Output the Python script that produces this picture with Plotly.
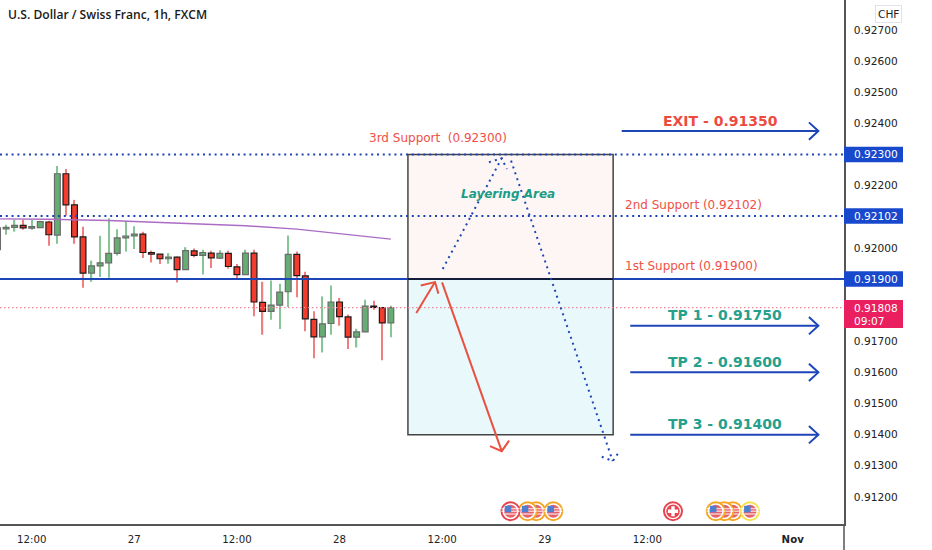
import plotly.graph_objects as go

# ---- data ----
HOURS = list(range(-16, 31))
OPEN = [0.91994,0.92061,0.92066,0.92072,0.92063,0.92065,0.92083,0.92041,0.92238,0.92138,0.92035,0.91919,0.91942,0.91952,0.91982,0.92032,0.92038,
        0.92044,0.91985,0.91980,0.91965,0.91970,0.91930,0.91990,0.91976,0.91983,0.91967,0.91982,0.91939,0.91914,0.91983,0.91825,0.91796,
        0.91816,0.91859,0.91979,0.91910,0.91770,0.91714,0.91757,0.91826,0.91778,0.91713,0.91730,0.91813,0.91808,0.91759]
CLOSE = [0.92064,0.92066,0.92072,0.92064,0.92068,0.92084,0.92042,0.92238,0.92138,0.92035,0.91919,0.91942,0.91952,0.91982,0.92032,0.92038,0.92044,
         0.91985,0.91980,0.91965,0.91970,0.91930,0.91991,0.91976,0.91985,0.91968,0.91982,0.91940,0.91914,0.91983,0.91826,0.91796,0.91816,
         0.91858,0.91979,0.91911,0.91772,0.91714,0.91756,0.91826,0.91779,0.91713,0.91730,0.91813,0.91809,0.91759,0.91808]
HIGH = [0.92074,0.92074,0.92090,0.92090,0.92090,0.92087,0.92087,0.92263,0.92253,0.92154,0.92068,0.91959,0.92039,0.92095,0.92060,0.92085,0.92069,
        0.92052,0.91991,0.91980,0.91983,0.91972,0.92002,0.91998,0.91994,0.91991,0.91992,0.91991,0.91948,0.91994,0.91994,0.91891,0.91895,
        0.91885,0.92040,0.91988,0.91923,0.91796,0.91844,0.91879,0.91839,0.91786,0.91740,0.91833,0.91830,0.91810,0.91814]
LOW = [0.91987,0.92042,0.92052,0.92058,0.92058,0.92064,0.92007,0.92013,0.92103,0.92013,0.91872,0.91891,0.91906,0.91904,0.91975,0.91988,0.91996,
       0.91967,0.91953,0.91948,0.91949,0.91889,0.91930,0.91970,0.91914,0.91935,0.91964,0.91933,0.91903,0.91914,0.91780,0.91721,0.91769,
       0.91739,0.91810,0.91841,0.91732,0.91645,0.91664,0.91721,0.91750,0.91675,0.91680,0.91730,0.91801,0.91639,0.91713]

MA_HOURS = [-16, -10, -3, 8, 13, 19, 23, 30]
MA_VALUES = [0.92093, 0.92092, 0.92088, 0.92077, 0.92071, 0.92060, 0.92048, 0.92028]

X_RANGE = [-15.71, 83.0]
Y_RANGE = [0.91113, 0.92796]

SUPPORT_3 = 0.92300
SUPPORT_2 = 0.92102
SUPPORT_1 = 0.91900
LAST_PRICE = 0.91808
ZONE_X = [32, 56]
ZONE_BOTTOM = 0.91400

ARROW_X0 = [57, 58, 58, 58]
ARROW_X1 = 80
ARROW_WING_X = 78.9
ARROW_PRICE = [0.92375, 0.91750, 0.91600, 0.91400]
ARROW_WING = 0.00028

RED1_X = [32.98, 35.17, None, 33.5, 35.17, 35.56]
RED1_Y = [0.91791, 0.91890, None, 0.91879, 0.91890, 0.91853]
RED2_X = [35.99, 42.97, None, 41.6, 42.97, 43.83]
RED2_Y = [0.91889, 0.91347, None, 0.91363, 0.91347, 0.91381]
BLUE1_X = [36.07, 42.97, None, 41.48, 42.97, 43.56]
BLUE1_Y = [0.91932, 0.92288, None, 0.92275, 0.92288, 0.92253]
BLUE2_X = [44.06, 55.95, None, 54.67, 55.95, 56.73]
BLUE2_Y = [0.92280, 0.91315, None, 0.91329, 0.91315, 0.91346]

Y_TICKS = [0.927, 0.926, 0.925, 0.924, 0.922, 0.920, 0.917, 0.916, 0.915, 0.914, 0.913, 0.912]
X_TICKS = [-12, 0, 12, 24, 36, 48, 60, 77]
X_LABELS = ["12:00", "27", "12:00", "28", "12:00", "29", "12:00", "<b>Nov</b>"]

FLAG_Y = 0.91154
FLAG_X = [47, 49, 46, 44, 70, 72, 69, 68]
FLAG_RING = ["#f5a623", "#f5a623", "#f5a623", "#e8444f", "#f5a623", "#f7e04a", "#f5a623", "#f5a623"]
SWISS_X = 63

RED = "#ef5046"
TEAL = "#25a08c"
BLUE = "#1c46b8"
TICK = "#222222"
FONT = "DejaVu Sans"

fig = go.Figure()

# ---- candles ----
is_up = [c >= o for o, c in zip(OPEN, CLOSE)]
for up, wick, body, border in [(True, "#86c596", "#66ad74", "#6b6b6b"), (False, "#ef8080", "#f23c2e", "#1a1a1a")]:
    idx = [i for i, u in enumerate(is_up) if u == up]
    xs = [HOURS[i] for i in idx]
    fig.add_trace(go.Bar(x=xs, y=[HIGH[i] - LOW[i] for i in idx], base=[LOW[i] for i in idx],
                         width=0.15, marker=dict(color=wick, line=dict(width=0))))
for up, wick, body, border in [(True, "#86c596", "#66ad74", "#6b6b6b"), (False, "#ef8080", "#f23c2e", "#1a1a1a")]:
    idx = [i for i, u in enumerate(is_up) if u == up]
    xs = [HOURS[i] for i in idx]
    fig.add_trace(go.Bar(x=xs, y=[abs(CLOSE[i] - OPEN[i]) for i in idx], base=[min(OPEN[i], CLOSE[i]) for i in idx],
                         width=0.68, marker=dict(color=body, line=dict(width=1.2, color=border))))

fig.add_trace(go.Scatter(x=MA_HOURS, y=MA_VALUES, mode="lines", line=dict(color="#ab6cc4", width=1.4)))

# ---- horizontal levels ----
fig.add_trace(go.Scatter(x=X_RANGE, y=[LAST_PRICE] * 2, mode="lines", line=dict(color="#e8899a", width=1.2, dash="1.5px,2.5px")))
for lvl in (SUPPORT_3, SUPPORT_2):
    fig.add_trace(go.Scatter(x=X_RANGE, y=[lvl] * 2, mode="lines", line=dict(color=BLUE, width=2, dash="2px,3.8px")))
fig.add_trace(go.Scatter(x=X_RANGE, y=[SUPPORT_1] * 2, mode="lines", line=dict(color=BLUE, width=2)))

# ---- zone boxes ----
fig.add_shape(type="rect", x0=ZONE_X[0], x1=ZONE_X[1], y0=SUPPORT_1, y1=SUPPORT_3, layer="below",
              fillcolor="#fdf6f5", line=dict(color="#444444", width=1.5))
fig.add_shape(type="rect", x0=ZONE_X[0], x1=ZONE_X[1], y0=ZONE_BOTTOM, y1=SUPPORT_1, layer="below",
              fillcolor="#e9f8fb", line=dict(color="#444444", width=1.5))
fig.add_trace(go.Scatter(x=ZONE_X, y=[SUPPORT_1] * 2, mode="lines", line=dict(color="#111111", width=1.6)))

# ---- drawn arrows ----
for x, y in ((RED1_X, RED1_Y), (RED2_X, RED2_Y)):
    fig.add_trace(go.Scatter(x=x, y=y, mode="lines", line=dict(color="#e9503f", width=2)))
for x, y in ((BLUE1_X, BLUE1_Y), (BLUE2_X, BLUE2_Y)):
    fig.add_trace(go.Scatter(x=x, y=y, mode="lines", line=dict(color=BLUE, width=2, dash="2px,4.2px")))
for x0, p in zip(ARROW_X0, ARROW_PRICE):
    fig.add_trace(go.Scatter(
        x=[x0, ARROW_X1, None, ARROW_WING_X, ARROW_X1, ARROW_WING_X],
        y=[p, p, None, p + ARROW_WING, p, p - ARROW_WING],
        mode="lines", line=dict(color=BLUE, width=2)))

# ---- news flags ----
STEP = 0.000032
def flag(x, ring):
    fig.add_trace(go.Scatter(x=[x], y=[FLAG_Y], mode="markers",
                             marker=dict(size=18, color="white", line=dict(color=ring, width=2))))
    fig.add_trace(go.Scatter(x=[x], y=[FLAG_Y], mode="markers", marker=dict(size=13, color="#e8626a", line=dict(width=0))))
    fig.add_trace(go.Scatter(x=[x, x, x], y=[FLAG_Y + 2.6 * STEP, FLAG_Y, FLAG_Y - 2.8 * STEP], mode="markers",
                             marker=dict(symbol="line-ew", size=[13, 13, 11], line=dict(color="white", width=1.4))))
    fig.add_trace(go.Scatter(x=[x - 0.3], y=[FLAG_Y + 2.2 * STEP], mode="markers",
                             marker=dict(symbol="square", size=6.5, color="#4f7fd0", line=dict(width=0))))
for fx, ring in zip(FLAG_X, FLAG_RING):
    flag(fx, ring)
fig.add_trace(go.Scatter(x=[SWISS_X], y=[FLAG_Y], mode="markers",
                         marker=dict(size=18, color="white", line=dict(color="#e8444f", width=2))))
fig.add_trace(go.Scatter(x=[SWISS_X], y=[FLAG_Y], mode="markers", marker=dict(size=13.5, color="#e8444f", line=dict(width=0))))
fig.add_trace(go.Scatter(x=[SWISS_X], y=[FLAG_Y], mode="markers", marker=dict(symbol="cross", size=8.5, color="white", line=dict(width=0))))

# ---- text ----
def note(x, y, text, color, size, bold=False, italic=False, family=FONT):
    fig.add_annotation(x=x, y=y, text=text, showarrow=False, xanchor="center", yanchor="middle",
                       font=dict(color=color, size=size, family=family,
                                 weight="bold" if bold else "normal", style="italic" if italic else "normal"))

note(35.5, 0.92353, "3rd Support  (0.92300)", RED, 12)
note(65.45, 0.92137, "2nd Support (0.92102)", RED, 12)
note(65.2, 0.91943, "1st Support (0.91900)", RED, 12)
note(68.5, 0.92408, "EXIT - 0.91350", "#ee4b40", 14, bold=True)
note(69.1, 0.91783, "TP 1 - 0.91750", TEAL, 14, bold=True)
note(69.1, 0.91634, "TP 2 - 0.91600", TEAL, 14, bold=True)
note(69.1, 0.91434, "TP 3 - 0.91400", TEAL, 14, bold=True)
note(43.7, 0.92173, "Layering Area", "#1a9c86", 12, bold=True, italic=True)

fig.add_annotation(xref="paper", yref="paper", x=6 / 844, y=1 - 15 / 524.3, xanchor="left", yanchor="middle",
                   text="U.S. Dollar / Swiss Franc, 1h, FXCM", showarrow=False,
                   font=dict(family="Open Sans", size=12.1, color="#1a1a1a", weight=600))

# ---- price tags on the scale ----
PAPER_L = 1.0
PAPER_R = 903 / 844
TAG_HALF = 7.8 * STEP
TAG_TEXT_X = 852.5 / 844
for lvl in (SUPPORT_3, SUPPORT_2, SUPPORT_1):
    fig.add_shape(type="rect", xref="paper", yref="y", x0=PAPER_L, x1=PAPER_R, y0=lvl - TAG_HALF, y1=lvl + TAG_HALF,
                  fillcolor="#1848cc", line=dict(width=0))
    fig.add_annotation(xref="paper", x=TAG_TEXT_X, y=lvl, text=f"{lvl:.5f}", showarrow=False, xanchor="left",
                       yanchor="middle", font=dict(color="white", size=10.6, family=FONT))
fig.add_shape(type="rect", xref="paper", yref="y", x0=PAPER_L, x1=PAPER_R, y0=LAST_PRICE - 20.5 * STEP, y1=LAST_PRICE + 7.7 * STEP,
              fillcolor="#ea1f5f", line=dict(width=0))
fig.add_annotation(xref="paper", x=TAG_TEXT_X, y=LAST_PRICE, text=f"{LAST_PRICE:.5f}", showarrow=False, xanchor="left",
                   yanchor="middle", font=dict(color="white", size=10.6, family=FONT))
fig.add_annotation(xref="paper", x=TAG_TEXT_X, y=LAST_PRICE - 13 * STEP, text="09:07", showarrow=False, xanchor="left",
                   yanchor="middle", font=dict(color="white", size=10.6, family=FONT))
fig.add_annotation(xref="paper", yref="paper", x=888 / 844, y=1 - 14 / 524.3, text="CHF", showarrow=False, xanchor="center",
                   yanchor="middle", bgcolor="white", bordercolor="#e0e3eb", borderwidth=1, borderpad=2,
                   font=dict(color="#222222", size=10.6, family=FONT))

# vertical scale line continues to the bottom of the page
fig.add_shape(type="line", xref="paper", yref="paper", x0=1, x1=1, y0=0, y1=-26 / 524.3, line=dict(color="#555555", width=1.5))

fig.update_layout(
    width=932, height=550, margin=dict(l=0, r=88, t=0, b=25.7),
    paper_bgcolor="white", plot_bgcolor="white", showlegend=False, barmode="overlay", hovermode=False,
    xaxis=dict(range=X_RANGE, tickmode="array", tickvals=X_TICKS, ticktext=X_LABELS, showgrid=False, zeroline=False,
               showline=True, linecolor="#555555", linewidth=1.5, ticks="", ticklabelstandoff=5,
               tickfont=dict(family=FONT, size=10.2, color=TICK)),
    yaxis=dict(range=Y_RANGE, side="right", tickmode="array", tickvals=Y_TICKS,
               ticktext=[f"{v:.5f}" for v in Y_TICKS], showgrid=False, zeroline=False,
               showline=True, linecolor="#555555", linewidth=1.5, ticks="", ticklabelstandoff=6,
               tickfont=dict(family=FONT, size=10.6, color=TICK)),
)
fig.write_html("out.html", config={"displayModeBar": False},
               post_script="document.body.style.margin='0';document.documentElement.style.overflow='hidden';")
